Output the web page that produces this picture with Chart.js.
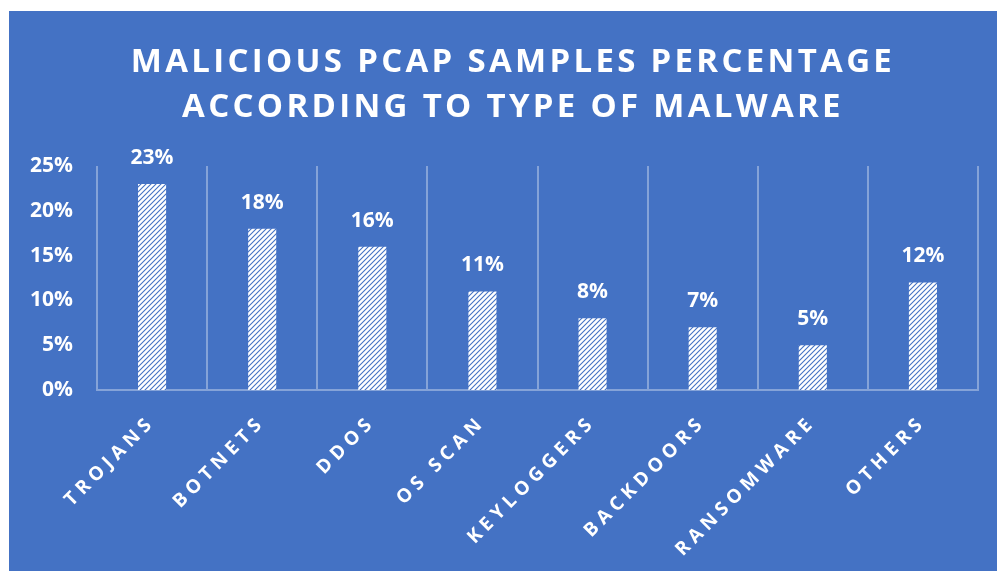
<!DOCTYPE html>
<html>
<head>
<meta charset="utf-8">
<script src="https://cdn.jsdelivr.net/npm/chart.js@4.4.0/dist/chart.umd.min.js"></script>
<style>
  body { margin: 0; background: #fff; }
  #box {
    position: absolute; left: 9px; top: 11px; width: 988px; height: 560px;
    background: #4472C4;
  }
  #title {
    position: absolute; left: 10px; top: 26px; width: 988px;
    text-align: center; color: #fff;
    font-family: "Open Sans", sans-serif; font-weight: bold;
    font-size: 33px; line-height: 45px; letter-spacing: 3.3px;
  }
  canvas { position: absolute; left: 0; top: 0; }
</style>
</head>
<body>
<div id="box">
  <canvas id="chartId" width="988" height="560"></canvas>
  <div id="title">MALICIOUS PCAP SAMPLES PERCENTAGE<br>ACCORDING TO TYPE OF MALWARE</div>
</div>
<script>
// chart data
const categories = ["TROJANS", "BOTNETS", "DDOS", "OS SCAN", "KEYLOGGERS", "BACKDOORS", "RANSOMWARE", "OTHERS"];
const percentages = [23, 18, 16, 11, 8, 7, 5, 12];
const yTicks = [0, 5, 10, 15, 20, 25];

const blue = "#4472C4";
const lineColor = "rgba(255,255,255,0.35)";

// hatch pattern for the bars (wide upward diagonal)
function makePattern() {
  const c = document.createElement("canvas");
  c.width = 5;
  c.height = 5;
  const p = c.getContext("2d");
  p.fillStyle = "#fff";
  p.fillRect(0, 0, 5, 5);
  p.strokeStyle = blue;
  p.lineWidth = 1.1;
  p.beginPath();
  p.moveTo(-1, 6); p.lineTo(6, -1);
  p.moveTo(-3.5, 3.5); p.lineTo(3.5, -3.5);
  p.moveTo(1.5, 8.5); p.lineTo(8.5, 1.5);
  p.stroke();
  return p.createPattern(c, "repeat");
}

// letter spacing only for the category labels
const spacing = {
  id: "spacing",
  afterLayout(chart) {
    const s = chart.scales.x;
    if (s._spaced) return;
    const orig = s.drawLabels;
    s.drawLabels = function (area) {
      const ctx = this.ctx;
      ctx.save();
      ctx.letterSpacing = "5px";
      orig.call(this, area);
      ctx.restore();
    };
    s._spaced = true;
  }
};

// value labels above bars
const valueLabels = {
  id: "valueLabels",
  afterDatasetsDraw(chart) {
    const ctx = chart.ctx;
    ctx.save();
    ctx.fillStyle = "#fff";
    ctx.font = "bold 21px 'Open Sans'";
    ctx.textAlign = "center";
    ctx.textBaseline = "alphabetic";
    chart.getDatasetMeta(0).data.forEach(function (bar, i) {
      ctx.fillText(percentages[i] + "%", bar.x, bar.y - 20);
    });
    ctx.restore();
  }
};

const chrt = document.getElementById("chartId").getContext("2d");

const chartId = new Chart(chrt, {
  type: "bar",
  data: {
    labels: categories,
    datasets: [
      {
        data: percentages,
        backgroundColor: makePattern(),
        borderWidth: 0,
        categoryPercentage: 1,
        barPercentage: 0.255,
      },
    ],
  },
  options: {
    responsive: false,
    animation: false,
    layout: { padding: { top: 155, right: 19, left: 0, bottom: 0 } },
    plugins: {
      legend: { display: false },
      tooltip: { enabled: false },
    },
    scales: {
      x: {
        offset: true,
        grid: { offset: true, color: lineColor, lineWidth: 2, drawTicks: false },
        border: { display: true, color: lineColor, width: 2 },
        ticks: {
          color: "#fff",
          font: { family: "Open Sans", weight: "bold", size: 19 },
          minRotation: 45,
          maxRotation: 45,
          padding: 21,
        },
        afterFit(scale) { scale.height = 181; },
      },
      y: {
        min: 0,
        max: 25,
        afterBuildTicks(scale) {
          scale.ticks = yTicks.map(function (v) { return { value: v }; });
        },
        grid: { display: false, drawTicks: false },
        border: { display: false },
        ticks: {
          color: "#fff",
          font: { family: "Open Sans", weight: "bold", size: 21 },
          padding: 24,
          callback: function (v) { return v + "%"; },
        },
        afterFit(scale) { scale.width = 88; },
      },
    },
  },
  plugins: [spacing, valueLabels],
});
</script>
</body>
</html>
